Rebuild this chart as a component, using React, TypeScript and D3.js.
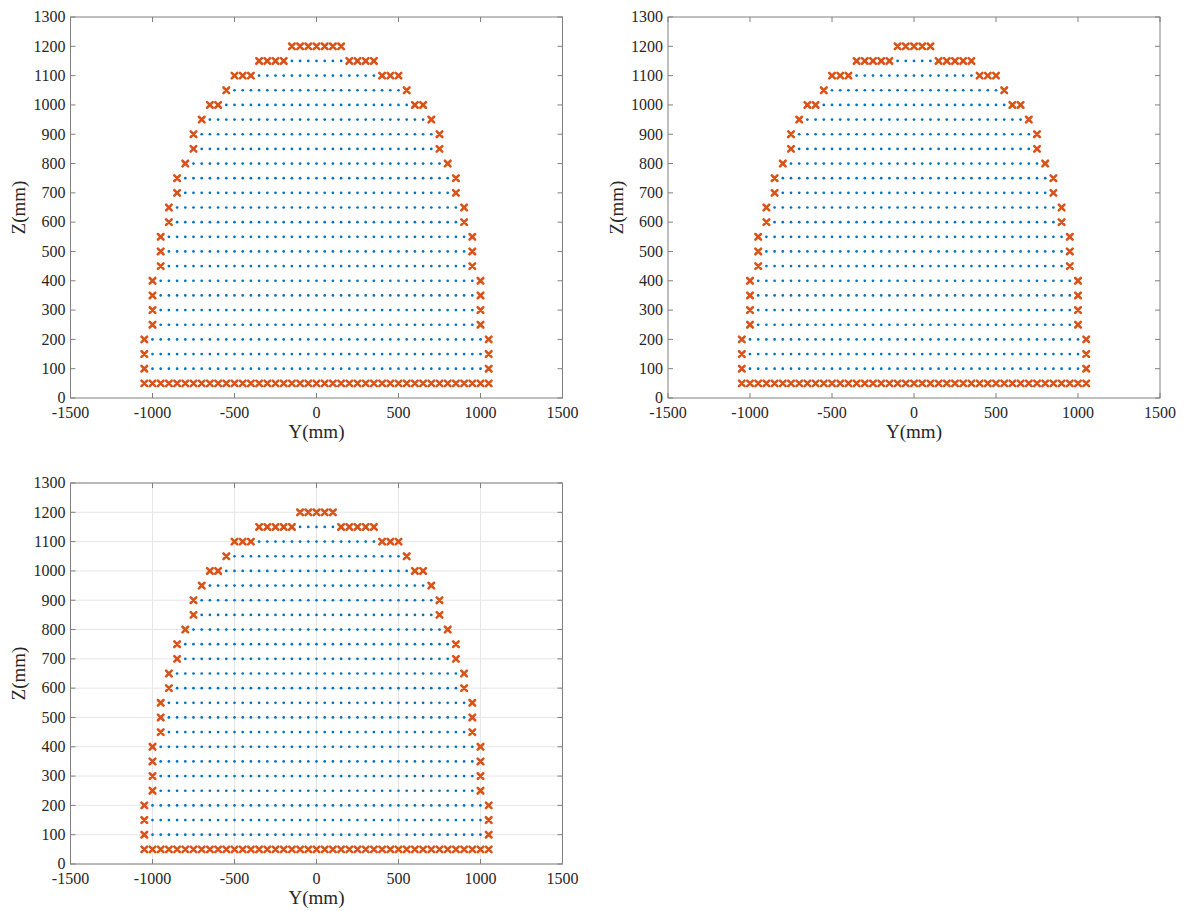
import React from "react";
import * as d3 from "d3";

// ---- data ----
const Z_LEVELS = [50, 100, 150, 200, 250, 300, 350, 400, 450, 500, 550, 600, 650, 700, 750, 800, 850, 900, 950, 1000, 1050, 1100, 1150, 1200];
// outermost |Y| of each row, and the |Y| from which the boundary (x) markers start
const OUTER_A = [1050, 1050, 1050, 1050, 1000, 1000, 1000, 1000, 950, 950, 950, 900, 900, 850, 850, 800, 750, 750, 700, 650, 550, 500, 350, 150];
const INNER_A = [0, 1050, 1050, 1050, 1000, 1000, 1000, 1000, 950, 950, 950, 900, 900, 850, 850, 800, 750, 750, 700, 600, 550, 400, 200, 0];
const OUTER_B = [1050, 1050, 1050, 1050, 1000, 1000, 1000, 1000, 950, 950, 950, 900, 900, 850, 850, 800, 750, 750, 700, 650, 550, 500, 350, 100];
const INNER_B = [0, 1050, 1050, 1050, 1000, 1000, 1000, 1000, 950, 950, 950, 900, 900, 850, 850, 800, 750, 750, 700, 600, 550, 400, 150, 0];
const GRID_STEP = 50;

const Y_TICKS = [-1500, -1000, -500, 0, 500, 1000, 1500];
const Z_TICKS = [0, 100, 200, 300, 400, 500, 600, 700, 800, 900, 1000, 1100, 1200, 1300];

const BLUE = "#0072BD";
const ORANGE = "#D95319";
const FONT = "'Liberation Serif', 'Times New Roman', serif";

type Pt = { y: number; z: number; edge: boolean };

function buildPoints(outer: number[], inner: number[]): Pt[] {
  const pts: Pt[] = [];
  Z_LEVELS.forEach((z, i) => {
    const o = outer[i];
    const n = Math.round((2 * o) / GRID_STEP);
    for (let k = 0; k <= n; k++) {
      const y = -o + k * GRID_STEP;
      pts.push({ y, z, edge: Math.abs(y) >= inner[i] - 1e-6 });
    }
  });
  return pts;
}

function Panel({ left, top, width, height, outer, inner, grid }: any) {
  const x = d3.scaleLinear().domain([-1500, 1500]).range([left, left + width]);
  const y = d3.scaleLinear().domain([0, 1300]).range([top + height, top]);
  const pts = buildPoints(outer, inner);
  const tl = 5;
  const axisColor = "#808080";
  const textColor = "#262626";
  const bottom = top + height;
  const right = left + width;
  const ms = 2.8;
  return (
    <g>
      {grid &&
        Y_TICKS.map((t) => (
          <line key={"gx" + t} x1={x(t)} x2={x(t)} y1={top} y2={bottom} stroke="#e6e6e6" strokeWidth={1} />
        ))}
      {grid &&
        Z_TICKS.map((t) => (
          <line key={"gy" + t} x1={left} x2={right} y1={y(t)} y2={y(t)} stroke="#e6e6e6" strokeWidth={1} />
        ))}
      {pts
        .filter((p) => !p.edge)
        .map((p, i) => (
          <circle key={"d" + i} cx={x(p.y)} cy={y(p.z)} r={1.35} fill={BLUE} />
        ))}
      {pts
        .filter((p) => p.edge)
        .map((p, i) => {
          const cx = x(p.y);
          const cy = y(p.z);
          return (
            <path
              key={"x" + i}
              d={`M${cx - ms},${cy - ms}L${cx + ms},${cy + ms}M${cx - ms},${cy + ms}L${cx + ms},${cy - ms}`}
              stroke={ORANGE}
              strokeWidth={2.6}
              strokeLinecap="round"
            />
          );
        })}
      <rect x={left} y={top} width={width} height={height} fill="none" stroke={axisColor} strokeWidth={1} />
      {Y_TICKS.map((t) => (
        <g key={"xt" + t}>
          <line x1={x(t)} x2={x(t)} y1={bottom} y2={bottom - tl} stroke={axisColor} />
          <line x1={x(t)} x2={x(t)} y1={top} y2={top + tl} stroke={axisColor} />
          <text x={x(t)} y={bottom + 20} textAnchor="middle" fontSize={16} fill={textColor} fontFamily={FONT}>
            {t}
          </text>
        </g>
      ))}
      {Z_TICKS.map((t) => (
        <g key={"yt" + t}>
          <line x1={left} x2={left + tl} y1={y(t)} y2={y(t)} stroke={axisColor} />
          <line x1={right} x2={right - tl} y1={y(t)} y2={y(t)} stroke={axisColor} />
          <text x={left - 5} y={y(t)} dy="0.33em" textAnchor="end" fontSize={16} fill={textColor} fontFamily={FONT}>
            {t}
          </text>
        </g>
      ))}
      <text x={(left + right) / 2} y={bottom + 40} textAnchor="middle" fontSize={19} fill={textColor} fontFamily={FONT}>
        Y(mm)
      </text>
      <text
        x={left - 52}
        y={(top + bottom) / 2}
        dy="0.35em"
        transform={`rotate(-90 ${left - 52} ${(top + bottom) / 2})`}
        textAnchor="middle"
        fontSize={19}
        fill={textColor}
        fontFamily={FONT}
      >
        Z(mm)
      </text>
    </g>
  );
}

export default function App() {
  return (
    <svg width={1196} height={911} style={{ position: "absolute", left: 0, top: 0, background: "#fff" }}>
      <rect x={0} y={0} width={1196} height={911} fill="#fff" />
      <Panel left={70.5} top={17} width={492} height={381} outer={OUTER_A} inner={INNER_A} grid={false} />
      <Panel left={668} top={17} width={492} height={381} outer={OUTER_B} inner={INNER_B} grid={false} />
      <Panel left={70.5} top={483} width={492} height={381} outer={OUTER_B} inner={INNER_B} grid={true} />
    </svg>
  );
}
